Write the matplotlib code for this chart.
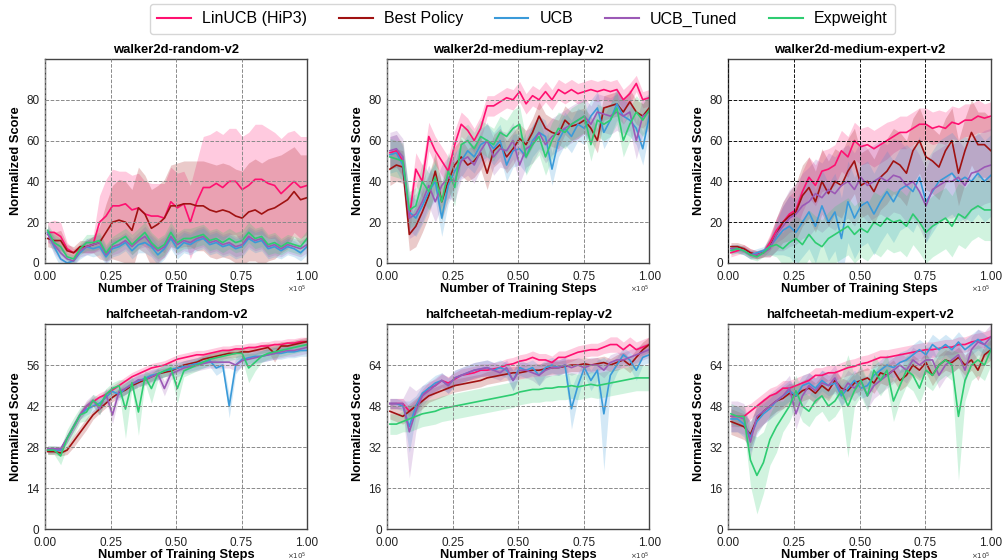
import numpy as np
import matplotlib
matplotlib.use("Agg")
import matplotlib.pyplot as plt
from matplotlib.lines import Line2D

# ## DATA ######################################################################

STEPS = np.linspace(0.01, 1.0, 41)  # x 1e5 training steps

METHODS = ["LinUCB (HiP3)", "Best Policy", "UCB", "UCB_Tuned", "Expweight"]
COLORS = ["#ff1070", "#a01212", "#3a9ad9", "#9b59b6", "#2ecc71"]

# walker2d-random-v2
W_RAND_LIN = [15, 15, 13, 7, 5, 7, 8, 9, 20, 23, 28, 28, 29, 26, 27, 24, 23, 23, 22, 30, 27, 29, 20, 30, 37, 37, 39, 37, 40, 40, 36, 38, 41, 41, 39, 38, 34, 37, 40, 37, 38]
W_RAND_LIN_SD = [5, 6, 7, 3, 2, 2, 3, 4, 13, 18, 18, 17, 16, 17, 17, 16, 16, 16, 17, 17, 17, 16, 18, 20, 25, 26, 26, 26, 26, 26, 26, 26, 27, 27, 27, 26, 27, 27, 25, 25, 24]
W_RAND_BEST = [12, 11, 11, 6, 5, 8, 8, 9, 10, 15, 20, 21, 20, 16, 27, 24, 17, 19, 22, 28, 28, 29, 29, 28, 28, 26, 25, 26, 25, 23, 22, 25, 26, 24, 26, 27, 29, 31, 35, 31, 32]
W_RAND_BEST_SD = [4, 4, 5, 3, 3, 3, 3, 4, 8, 14, 18, 20, 20, 20, 20, 19, 19, 19, 19, 20, 21, 21, 21, 22, 22, 23, 23, 23, 23, 23, 23, 24, 25, 25, 25, 25, 24, 24, 22, 22, 21]
W_RAND_UCB = [15, 8, 2, 0, 1, 5, 8, 7, 8, 3, 7, 8, 10, 6, 9, 10, 8, 4, 7, 12, 7, 10, 9, 11, 12, 9, 10, 8, 9, 7, 8, 12, 10, 11, 7, 8, 6, 8, 7, 5, 8]
W_RAND_UCB_SD = [3, 4, 4, 2, 2, 3, 4, 4, 4, 4, 4, 4, 4, 4, 4, 5, 5, 5, 5, 5, 5, 5, 5, 5, 5, 5, 5, 5, 5, 5, 5, 5, 5, 5, 5, 5, 4, 4, 4, 4, 4]
W_RAND_TUNED = [14, 9, 5, 2, 1, 6, 8, 9, 10, 4, 8, 9, 11, 8, 11, 13, 9, 6, 8, 13, 9, 11, 10, 12, 13, 10, 11, 9, 10, 8, 9, 13, 11, 12, 8, 9, 7, 9, 8, 7, 9]
W_RAND_TUNED_SD = [3, 4, 4, 2, 2, 3, 4, 4, 4, 4, 4, 4, 4, 4, 4, 5, 5, 5, 5, 5, 5, 5, 5, 5, 5, 5, 5, 5, 5, 5, 5, 5, 5, 5, 5, 5, 4, 4, 4, 4, 4]
W_RAND_EXP = [16, 10, 8, 3, 2, 7, 10, 10, 11, 5, 9, 11, 13, 9, 12, 15, 10, 7, 9, 15, 10, 12, 12, 13, 14, 11, 12, 10, 12, 10, 11, 15, 12, 13, 9, 10, 8, 10, 9, 8, 12]
W_RAND_EXP_SD = [3, 4, 4, 2, 2, 3, 4, 4, 4, 4, 4, 4, 4, 5, 5, 5, 5, 5, 5, 5, 5, 5, 5, 5, 5, 5, 5, 5, 5, 5, 5, 5, 5, 5, 5, 5, 4, 4, 4, 4, 4]

# walker2d-medium-replay-v2
W_MREP_LIN = [54, 55, 50, 22, 46, 40, 62, 55, 50, 45, 58, 68, 65, 60, 66, 77, 77, 79, 81, 80, 84, 78, 82, 80, 84, 80, 85, 83, 85, 83, 84, 85, 84, 85, 84, 85, 80, 83, 88, 80, 81]
W_MREP_LIN_SD = [8, 8, 8, 8, 8, 8, 7, 7, 7, 7, 7, 6, 6, 6, 6, 5, 5, 5, 5, 5, 5, 5, 5, 5, 5, 5, 5, 5, 5, 5, 5, 5, 5, 5, 5, 5, 5, 5, 4, 4, 4]
W_MREP_BEST = [46, 48, 47, 14, 18, 25, 33, 45, 30, 40, 48, 52, 48, 50, 54, 44, 55, 58, 52, 56, 61, 58, 64, 72, 66, 64, 63, 70, 67, 68, 70, 66, 60, 76, 77, 78, 74, 79, 74, 72, 76]
W_MREP_BEST_SD = [8, 8, 8, 8, 10, 10, 10, 9, 9, 9, 9, 9, 8, 8, 8, 8, 8, 8, 8, 8, 7, 7, 7, 7, 7, 7, 7, 7, 7, 7, 6, 6, 6, 6, 6, 6, 6, 6, 6, 6, 6]
W_MREP_UCB = [53, 54, 48, 25, 22, 28, 35, 40, 22, 38, 45, 50, 55, 52, 58, 60, 56, 60, 48, 55, 56, 52, 60, 64, 62, 46, 60, 66, 62, 68, 66, 72, 76, 64, 70, 78, 72, 70, 66, 56, 72]
W_MREP_UCB_SD = [9, 9, 9, 9, 9, 9, 9, 9, 9, 9, 9, 8, 8, 8, 8, 8, 8, 8, 8, 8, 8, 8, 8, 8, 8, 8, 8, 8, 8, 8, 8, 8, 8, 8, 8, 8, 8, 8, 8, 8, 8]
W_MREP_TUNED = [55, 56, 52, 22, 24, 30, 38, 30, 38, 42, 40, 50, 52, 48, 55, 60, 52, 56, 55, 60, 48, 56, 58, 64, 58, 62, 64, 66, 68, 70, 72, 68, 74, 73, 72, 74, 72, 74, 60, 72, 74]
W_MREP_TUNED_SD = [9, 9, 9, 10, 10, 10, 10, 10, 10, 10, 10, 9, 9, 9, 9, 9, 9, 9, 9, 9, 9, 9, 9, 9, 9, 9, 9, 9, 9, 9, 9, 9, 9, 9, 9, 9, 9, 9, 9, 9, 9]
W_MREP_EXP = [52, 51, 50, 26, 28, 40, 35, 42, 30, 45, 37, 58, 60, 56, 62, 60, 58, 64, 62, 66, 68, 52, 58, 62, 52, 60, 66, 64, 68, 70, 72, 58, 70, 68, 70, 76, 60, 68, 74, 70, 75]
W_MREP_EXP_SD = [9, 9, 9, 9, 9, 9, 9, 9, 9, 9, 9, 8, 8, 8, 8, 8, 8, 8, 8, 9, 9, 9, 9, 9, 9, 9, 8, 8, 8, 8, 8, 8, 8, 8, 8, 8, 8, 8, 8, 8, 8]

# walker2d-medium-expert-v2
W_MEXP_LIN = [5, 6, 7, 5, 4, 5, 10, 16, 20, 24, 26, 35, 42, 38, 45, 46, 48, 55, 52, 60, 57, 58, 56, 58, 60, 62, 64, 64, 66, 68, 68, 66, 67, 66, 69, 68, 70, 70, 72, 71, 72]
W_MEXP_LIN_SD = [2, 2, 2, 2, 2, 2, 4, 6, 8, 9, 10, 10, 10, 10, 10, 10, 10, 10, 10, 9, 9, 9, 9, 9, 9, 8, 8, 8, 8, 8, 8, 8, 8, 8, 8, 8, 8, 8, 8, 7, 7]
W_MEXP_BEST = [8, 8, 7, 5, 4, 5, 8, 14, 20, 23, 25, 33, 37, 30, 40, 34, 40, 38, 45, 50, 38, 40, 35, 42, 45, 50, 48, 44, 55, 60, 52, 50, 47, 55, 60, 44, 55, 64, 58, 58, 55]
W_MEXP_BEST_SD = [2, 2, 2, 2, 2, 2, 5, 8, 10, 12, 14, 15, 15, 15, 16, 16, 16, 16, 16, 16, 16, 16, 16, 16, 16, 16, 16, 16, 16, 16, 16, 16, 16, 16, 16, 16, 16, 16, 16, 16, 16]
W_MEXP_UCB = [7, 7, 6, 4, 5, 6, 8, 12, 16, 18, 15, 20, 25, 18, 28, 20, 25, 12, 30, 22, 28, 30, 24, 30, 35, 30, 36, 38, 35, 42, 30, 35, 40, 42, 44, 40, 42, 40, 44, 40, 43]
W_MEXP_UCB_SD = [2, 2, 2, 2, 2, 2, 4, 8, 12, 15, 16, 17, 18, 18, 18, 19, 19, 20, 20, 20, 20, 20, 20, 20, 20, 20, 20, 20, 20, 20, 20, 20, 20, 20, 20, 20, 20, 20, 20, 20, 20]
W_MEXP_TUNED = [7, 7, 6, 4, 4, 5, 7, 14, 18, 22, 24, 28, 30, 34, 32, 36, 34, 38, 40, 36, 42, 38, 40, 42, 40, 43, 42, 38, 40, 35, 28, 36, 38, 40, 40, 42, 38, 44, 45, 47, 48]
W_MEXP_TUNED_SD = [2, 2, 2, 2, 2, 2, 4, 8, 12, 14, 15, 16, 17, 17, 17, 18, 18, 18, 18, 18, 18, 18, 18, 18, 18, 18, 18, 18, 18, 18, 18, 18, 18, 18, 18, 18, 18, 18, 18, 18, 18]
W_MEXP_EXP = [6, 7, 6, 4, 3, 5, 8, 9, 7, 10, 12, 9, 14, 10, 8, 12, 14, 16, 18, 14, 17, 15, 20, 18, 22, 20, 21, 18, 24, 20, 15, 18, 20, 22, 18, 24, 22, 26, 28, 26, 26]
W_MEXP_EXP_SD = [2, 2, 2, 2, 2, 2, 4, 6, 8, 10, 11, 12, 12, 13, 13, 13, 14, 14, 14, 14, 14, 14, 15, 15, 15, 15, 15, 15, 15, 15, 15, 15, 15, 15, 15, 15, 15, 15, 15, 15, 15]

# halfcheetah-random-v2
H_RAND_LIN = [27, 27, 27, 31, 35, 39, 42, 43.5, 45, 46, 47.5, 49, 50.5, 52, 53, 54, 55, 55.5, 56, 57, 58, 58.5, 59, 59.5, 59.5, 60, 60.5, 61, 61, 61.5, 61.5, 62, 62, 62.5, 62.5, 63, 63, 63.5, 63.5, 64, 64]
H_RAND_LIN_SD = [1, 1, 1, 1.5, 1.5, 1.5, 1.5, 1.5, 1.5, 1.5, 1.5, 1.5, 1.5, 1.5, 1.5, 1.5, 1.5, 1.5, 1.5, 1.5, 1.5, 1.5, 1.5, 1.5, 1.5, 1.5, 1.5, 1.5, 1.5, 1.5, 1.5, 1.5, 1.5, 1.5, 1.5, 1.5, 1.5, 1.5, 1.5, 1.5, 1.5]
H_RAND_BEST = [26.5, 26.5, 26, 27, 30, 33, 36, 39, 41, 43, 45, 46.5, 47.5, 49, 50, 51, 52, 53, 53.5, 54, 55, 56, 56.5, 57, 58, 58.5, 59, 59.5, 60, 60, 60.5, 60.5, 61, 61.5, 62, 60, 62.5, 62.5, 63, 63.5, 64]
H_RAND_BEST_SD = [1, 1, 1, 1.5, 2, 2, 2, 1.5, 1.5, 1.5, 1.5, 1.5, 1.5, 1.5, 1.5, 1.5, 1.5, 1.5, 1.5, 1.5, 1.5, 1.5, 1.5, 1.5, 1.5, 1.5, 1.5, 1.5, 1.5, 1.5, 1.5, 1.5, 1.5, 1.5, 1.5, 3, 1.5, 1.5, 1.5, 1.5, 1.5]
H_RAND_UCB = [27, 27, 27, 31, 35, 39, 41, 42, 43, 45, 47, 46, 48, 49.5, 50.5, 51.5, 52.5, 53, 54, 54.5, 55, 55.5, 56, 56.5, 57, 57.5, 55, 56, 42, 56, 58, 58.5, 59, 59, 59.5, 60, 60, 60.5, 60.5, 61, 61]
H_RAND_UCB_SD = [1, 1, 1, 1.5, 1.5, 1.5, 2, 2, 2, 2, 2, 2, 2, 2, 2, 2, 2, 2, 2, 2, 2, 2, 2, 2, 2, 2, 2.5, 2, 4, 3, 2, 2, 2, 2, 2, 2, 2, 2, 2, 2, 2]
H_RAND_TUNED = [27.5, 27.5, 27.5, 31, 35, 39, 42, 44, 41, 46, 39, 47, 48, 49.5, 51, 51, 52, 53, 48, 53, 54, 55, 55.5, 56, 56.5, 57, 57, 57, 57, 56, 57.5, 58, 58.5, 59, 59.5, 60, 60.5, 61, 61, 61.5, 62]
H_RAND_TUNED_SD = [1, 1, 1, 1.5, 1.5, 1.5, 2, 2, 2, 2, 3, 2, 2, 2, 2, 2, 2, 2, 2.5, 2, 2, 2, 2, 2, 2, 2, 2, 2, 2, 2, 2, 2, 2, 2, 2, 2, 2, 2, 2, 2, 2]
H_RAND_EXP = [27, 27, 25, 31, 35, 39, 40, 44, 42, 46, 48, 49, 41, 50, 40, 52, 48, 53, 54, 55, 48, 54, 55, 56, 57, 58, 58.5, 59, 59.5, 60, 60, 55, 57, 59, 60, 60.5, 61, 61.5, 62, 62.5, 63]
H_RAND_EXP_SD = [1.5, 1.5, 3, 3, 3, 2.5, 3, 2, 3, 2, 2, 2, 10, 2, 8, 2, 5, 2, 2, 2, 5, 2, 2, 2, 2, 2, 2, 2, 2, 2, 2, 5, 3, 2, 2, 2, 2, 2, 2, 2, 2]

# halfcheetah-medium-replay-v2
H_MREP_LIN = [49, 49, 49, 46, 48, 52, 55, 56, 58, 57, 58.5, 60, 60.5, 61, 62, 62, 62.5, 63, 64, 64.5, 65.5, 66, 67, 66, 66, 65, 67, 67, 68, 69, 69.5, 70, 70, 71, 72, 72, 70, 72, 70, 71, 72]
H_MREP_LIN_SD = [2, 2, 2, 2, 2.5, 2.5, 2.5, 2.5, 2.5, 2.5, 2.5, 2.5, 2.5, 2.5, 2.5, 2.5, 2.5, 2.5, 2.5, 2.5, 2.5, 2.5, 2.5, 2.5, 2.5, 2.5, 2.5, 2.5, 2.5, 2.5, 2.5, 2.5, 2.5, 2.5, 3, 3, 3, 3, 3, 3, 3]
H_MREP_BEST = [46, 45, 44, 46, 48, 50, 52, 53, 54, 55, 56, 56.5, 57, 57.5, 58, 59, 59.5, 60, 60.5, 61, 61, 61.5, 62, 62, 62.5, 63, 63, 63.5, 64, 64, 64.5, 64, 64.5, 65, 64, 65, 66, 64, 67, 70, 72]
H_MREP_BEST_SD = [3, 3, 3, 3, 3, 3, 2.5, 2.5, 2.5, 2.5, 2.5, 2.5, 2.5, 2.5, 2.5, 2.5, 2.5, 2.5, 2.5, 2.5, 2.5, 2.5, 2.5, 2.5, 2.5, 2.5, 2.5, 2.5, 2.5, 2.5, 2.5, 2.5, 2.5, 2.5, 2.5, 3, 3, 3, 3, 3, 3]
H_MREP_UCB = [49, 49, 48, 40, 48, 53, 55, 57, 58, 56, 59, 60, 61, 62, 62.5, 63, 62, 63, 62, 58, 63, 62, 63, 60, 63, 64, 63, 64, 47, 56, 63, 58, 62, 45, 60, 64, 68, 66, 62, 67, 68]
H_MREP_UCB_SD = [2, 2, 2, 10, 4, 3, 3, 3, 3, 3, 3, 3, 3, 3, 3, 3, 3, 3, 3, 4, 3, 3, 3, 4, 3, 3, 3, 3, 8, 5, 3, 4, 4, 22, 5, 3, 3, 3, 4, 3, 3]
H_MREP_TUNED = [49, 49, 49, 38, 46, 52, 54, 56, 58, 56, 59, 60, 61, 62, 62.5, 63, 62, 61, 63, 58, 62, 62, 61, 60, 62, 63, 63, 64, 63, 64, 63, 64, 64, 62, 65, 66, 66, 67, 68, 69, 70]
H_MREP_TUNED_SD = [2, 2, 2, 18, 8, 4, 3, 3, 3, 3, 3, 3, 3, 3, 3, 3, 3, 3, 3, 4, 3, 3, 3, 4, 3, 3, 3, 3, 3, 3, 3, 3, 3, 3, 3, 3, 3, 3, 3, 3, 3]
H_MREP_EXP = [41, 41, 42, 43, 44, 45, 45.5, 46, 47, 47.5, 48, 48.5, 49, 49.5, 50, 50.5, 51, 51.5, 52, 52.5, 53.5, 54, 54.5, 54.5, 55, 55, 55.5, 55.5, 56, 55.5, 56, 56.5, 56, 56.5, 57, 57.5, 58, 58.5, 59, 59, 59]
H_MREP_EXP_SD = [4, 4, 4, 5, 5, 5, 5, 5, 5, 5, 5, 5, 5, 5, 5, 5, 5, 5, 5, 5, 5, 5, 5, 5, 5, 5, 5, 5, 5, 5, 5, 5, 5, 5, 5, 5, 5, 5, 5, 5, 5]

# halfcheetah-medium-expert-v2
H_MEXP_LIN = [44, 44, 44, 46, 48, 50, 52, 53, 55, 55, 56, 57, 58, 60, 60, 61, 61, 62, 63, 63.5, 64.5, 65, 66, 67, 67, 67.5, 68, 68.5, 69, 69.5, 70, 70, 70.5, 71, 71, 72, 72, 73, 73.5, 74, 75]
H_MEXP_LIN_SD = [4, 4, 4, 3, 3, 3, 3, 3, 3, 3, 3, 3, 3, 3, 3, 3, 3, 3, 3, 3, 3, 3, 3, 3, 3, 3, 3, 3, 3, 3, 3, 3, 3, 3, 3, 3, 3, 3, 3, 3, 3]
H_MEXP_BEST = [42, 41, 40, 37, 43, 46, 48, 50, 51, 53, 52, 54, 55, 53, 56, 54, 58, 55, 54, 57, 58, 59, 57, 61, 60, 62, 58, 60, 64, 62, 65, 60, 64, 66, 65, 67, 64, 66, 62, 68, 70]
H_MEXP_BEST_SD = [5, 5, 5, 5, 5, 5, 4, 4, 4, 4, 4, 4, 4, 4, 4, 4, 4, 4, 4, 4, 4, 4, 4, 4, 4, 4, 4, 4, 4, 4, 4, 4, 4, 4, 4, 4, 4, 4, 4, 4, 4]
H_MEXP_UCB = [43, 43, 41, 36, 42, 45, 47, 50, 52, 54, 52, 56, 57, 55, 58, 56, 57, 52, 55, 58, 55, 56, 60, 62, 64, 63, 65, 66, 68, 70, 68, 72, 70, 72, 70, 73, 70, 72, 74, 72, 70]
H_MEXP_UCB_SD = [5, 5, 5, 6, 5, 4, 4, 4, 4, 4, 4, 4, 4, 4, 4, 4, 4, 4, 4, 4, 4, 4, 4, 4, 4, 4, 4, 4, 4, 4, 4, 4, 4, 4, 4, 4, 4, 4, 4, 4, 4]
H_MEXP_TUNED = [44, 44, 43, 34, 44, 46, 48, 50, 52, 55, 45, 52, 56, 54, 57, 56, 59, 53, 57, 55, 58, 52, 56, 58, 60, 62, 64, 62, 66, 64, 66, 66, 60, 64, 66, 68, 62, 70, 73, 72, 75]
H_MEXP_TUNED_SD = [6, 6, 6, 6, 5, 5, 5, 5, 5, 5, 6, 5, 5, 5, 5, 5, 5, 5, 5, 5, 5, 5, 5, 5, 5, 5, 5, 5, 5, 5, 5, 5, 5, 5, 5, 5, 5, 5, 5, 5, 5]
H_MEXP_EXP = [45, 44, 44, 27, 21, 26, 35, 40, 44, 48, 54, 48, 46, 50, 52, 48, 50, 54, 48, 54, 58, 52, 62, 58, 62, 50, 56, 62, 60, 55, 62, 60, 64, 66, 64, 44, 58, 64, 66, 64, 70]
H_MEXP_EXP_SD = [4, 4, 4, 10, 15, 12, 10, 10, 6, 6, 6, 6, 6, 6, 6, 6, 6, 6, 20, 6, 6, 6, 6, 6, 6, 8, 6, 6, 6, 6, 6, 6, 6, 6, 6, 25, 8, 6, 6, 6, 6]

TITLES = ["walker2d-random-v2", "walker2d-medium-replay-v2", "walker2d-medium-expert-v2",
          "halfcheetah-random-v2", "halfcheetah-medium-replay-v2", "halfcheetah-medium-expert-v2"]
Y_TICKS = [[0, 20, 40, 60, 80], [0, 20, 40, 60, 80], [0, 20, 40, 60, 80],
           [0, 14, 28, 42, 56], [0, 16, 32, 48, 64], [0, 16, 32, 48, 64]]
Y_MAX = [100, 100, 100, 70, 80, 80]
X_TICKS = [0.0, 0.25, 0.5, 0.75, 1.0]

MEANS = [
    [W_RAND_LIN, W_RAND_BEST, W_RAND_UCB, W_RAND_TUNED, W_RAND_EXP],
    [W_MREP_LIN, W_MREP_BEST, W_MREP_UCB, W_MREP_TUNED, W_MREP_EXP],
    [W_MEXP_LIN, W_MEXP_BEST, W_MEXP_UCB, W_MEXP_TUNED, W_MEXP_EXP],
    [H_RAND_LIN, H_RAND_BEST, H_RAND_UCB, H_RAND_TUNED, H_RAND_EXP],
    [H_MREP_LIN, H_MREP_BEST, H_MREP_UCB, H_MREP_TUNED, H_MREP_EXP],
    [H_MEXP_LIN, H_MEXP_BEST, H_MEXP_UCB, H_MEXP_TUNED, H_MEXP_EXP],
]
SPREADS = [
    [W_RAND_LIN_SD, W_RAND_BEST_SD, W_RAND_UCB_SD, W_RAND_TUNED_SD, W_RAND_EXP_SD],
    [W_MREP_LIN_SD, W_MREP_BEST_SD, W_MREP_UCB_SD, W_MREP_TUNED_SD, W_MREP_EXP_SD],
    [W_MEXP_LIN_SD, W_MEXP_BEST_SD, W_MEXP_UCB_SD, W_MEXP_TUNED_SD, W_MEXP_EXP_SD],
    [H_RAND_LIN_SD, H_RAND_BEST_SD, H_RAND_UCB_SD, H_RAND_TUNED_SD, H_RAND_EXP_SD],
    [H_MREP_LIN_SD, H_MREP_BEST_SD, H_MREP_UCB_SD, H_MREP_TUNED_SD, H_MREP_EXP_SD],
    [H_MEXP_LIN_SD, H_MEXP_BEST_SD, H_MEXP_UCB_SD, H_MEXP_TUNED_SD, H_MEXP_EXP_SD],
]

# ## PLOT STYLE ################################################################

plt.rcParams.update({'font.family': ['Liberation Sans', 'DejaVu Sans'], 'font.size': 8.5})

# axes rectangles in figure fraction (left, bottom, width, height)
COL_LEFT = [0.0449, 0.3861, 0.7261]
COL_WIDTH = [0.2612, 0.2612, 0.2619]
ROW_BOTTOM = [0.5304, 0.0548]
ROW_HEIGHT = [0.3643, 0.3666]

# ## MAIN ######################################################################

fig = plt.figure(figsize=(10.03, 5.6), dpi=100)

for i in range(6):
    r, c = divmod(i, 3)
    ax = fig.add_axes([COL_LEFT[c], ROW_BOTTOM[r], COL_WIDTH[c], ROW_HEIGHT[r]])

    # bands first, then the mean curves on top
    for mean, sd, color in zip(MEANS[i], SPREADS[i], COLORS):
        m = np.asarray(mean, dtype=float)
        s = np.asarray(sd, dtype=float)
        ax.fill_between(STEPS, m - s, m + s, color=color, alpha=0.22, lw=0)
    for mean, color, label in zip(MEANS[i], COLORS, METHODS):
        ax.plot(STEPS, mean, color=color, lw=1.2, label=label)

    ax.set_xlim(0, 1.0)
    ax.set_ylim(0, Y_MAX[i])
    ax.set_xticks(X_TICKS)
    ax.set_xticklabels(["%.2f" % t for t in X_TICKS])
    ax.set_yticks(Y_TICKS[i])
    ax.tick_params(axis='y', length=0, pad=4, labelsize=8.5, colors='#222222')
    ax.tick_params(axis='x', length=0, pad=5.5, labelsize=8.5, colors='#222222')

    grid_col = '#111111' if i == 2 else '#8a8a8a'
    ax.grid(True, ls='--', lw=0.7, color=grid_col)
    ax.set_axisbelow(False)
    for sp in ax.spines.values():
        sp.set_color('#444444')
        sp.set_linewidth(1.0)

    ax.set_title(TITLES[i], fontsize=9.4, fontweight='bold', pad=4)
    ax.set_xlabel("Number of Training Steps", fontsize=9.3, fontweight='bold', labelpad=0)
    ax.set_ylabel("Normalized Score", fontsize=9.3, fontweight='bold', labelpad=3)
    ax.text(1.0, -0.13, r'$\times10^5$', transform=ax.transAxes,
            ha='right', va='center', fontsize=5, color='#333333')

handles = [Line2D([], [], color=col, lw=1.5) for col in COLORS]
fig.legend(handles, METHODS, loc='center', bbox_to_anchor=(0.521, 0.966), ncol=5,
           fontsize=11.5, frameon=True, fancybox=True, edgecolor='#cccccc',
           handlelength=2.1, columnspacing=2.0, handletextpad=0.7, borderpad=0.45)

fig.savefig("out.png", dpi=100, facecolor='w')
